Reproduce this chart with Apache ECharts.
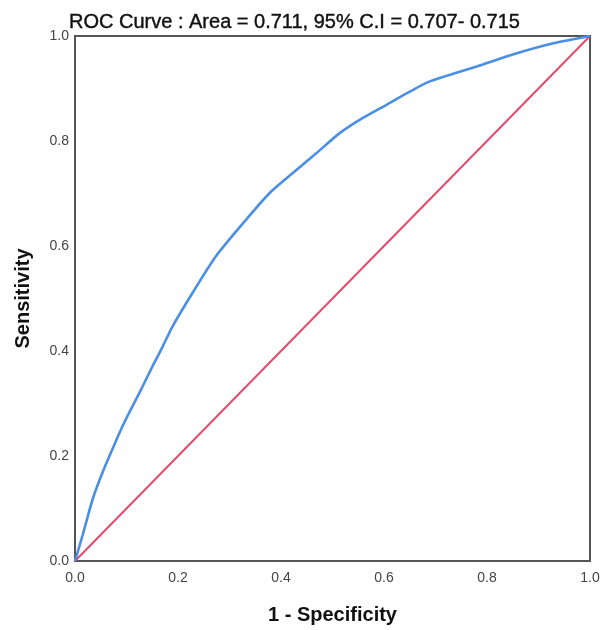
<!DOCTYPE html>
<html>
<head>
<meta charset="utf-8">
<script src="https://cdn.jsdelivr.net/npm/echarts@6/dist/echarts.min.js"></script>
<style>html,body{margin:0;padding:0;background:#fff;}#c{width:610px;height:630px;}</style>
</head>
<body>
<div id="c"></div>
<script>
const titleText = 'ROC Curve : Area = 0.711, 95% C.I = 0.707- 0.715';
const xAxisName = '1 - Specificity';
const yAxisName = 'Sensitivity';
const rocFpr = [0, 0.015, 0.035, 0.054, 0.073, 0.090, 0.106, 0.129, 0.151, 0.168, 0.190, 0.229, 0.274, 0.333, 0.378, 0.423, 0.469, 0.514, 0.559, 0.605, 0.650, 0.690, 0.780, 0.858, 0.929, 1.0];
const rocTpr = [0, 0.050, 0.120, 0.170, 0.214, 0.252, 0.284, 0.328, 0.372, 0.404, 0.448, 0.512, 0.581, 0.651, 0.701, 0.739, 0.777, 0.815, 0.844, 0.869, 0.894, 0.914, 0.942, 0.967, 0.986, 1.0];
const refFpr = [0, 1];
const refTpr = [0, 1];

const chart = echarts.init(document.getElementById('c'), null, {renderer: 'canvas'});
const font = 'Liberation Sans, Arial, sans-serif';
chart.setOption({
  animation: false,
  backgroundColor: '#fff',
  title: {
    text: titleText, left: 64, top: 7,
    textStyle: {fontFamily: font, fontSize: 20, fontWeight: 'normal', color: '#111',
      textBorderColor: '#111', textBorderWidth: 0.4}
  },
  grid: {left: 75, right: 20, top: 36, bottom: 67, show: true, borderColor: '#555', borderWidth: 2, backgroundColor: 'transparent'},
  xAxis: {
    type: 'value', min: 0, max: 1, interval: 0.2,
    name: xAxisName, nameLocation: 'middle', nameGap: 44,
    nameTextStyle: {fontFamily: font, fontSize: 20, fontWeight: 'bold', color: '#111'},
    axisLine: {show: true, lineStyle: {color: '#555', width: 2}},
    axisTick: {show: false}, splitLine: {show: false},
    axisLabel: {fontFamily: font, fontSize: 14, color: '#444', margin: 10, formatter: v => v.toFixed(1)}
  },
  yAxis: {
    type: 'value', min: 0, max: 1, interval: 0.2,
    name: yAxisName, nameLocation: 'middle', nameGap: 42, nameRotate: 90,
    nameTextStyle: {fontFamily: font, fontSize: 20, fontWeight: 'bold', color: '#111'},
    axisLine: {show: true, lineStyle: {color: '#555', width: 2}},
    axisTick: {show: false}, splitLine: {show: false},
    axisLabel: {fontFamily: font, fontSize: 14, color: '#444', margin: 6, formatter: v => v.toFixed(1)}
  },
  series: [
    {
      type: 'line', data: refFpr.map((x, i) => [x, refTpr[i]]),
      showSymbol: false, lineStyle: {color: '#e34a6b', width: 2}, z: 2
    },
    {
      type: 'line', data: rocFpr.map((x, i) => [x, rocTpr[i]]),
      showSymbol: false, smooth: 0.25, lineStyle: {color: '#4a8fe6', width: 2.6}, z: 3
    }
  ]
});
</script>
</body>
</html>
